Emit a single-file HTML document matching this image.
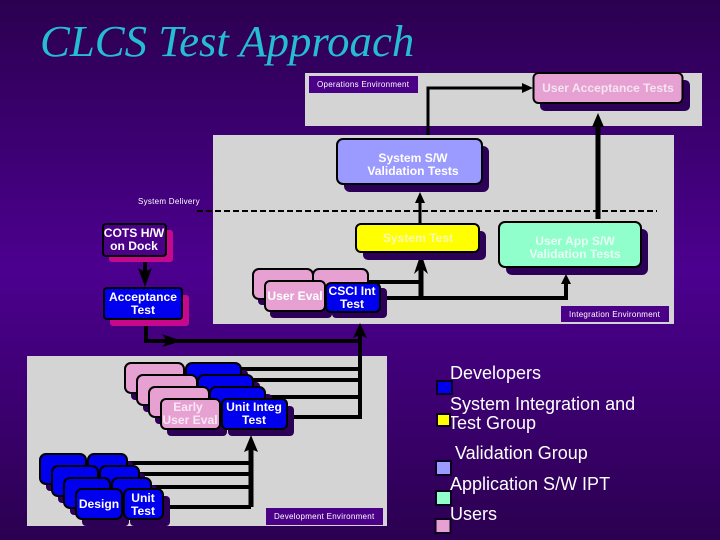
<!DOCTYPE html>
<html>
<head>
<meta charset="utf-8">
<style>
html,body{margin:0;padding:0;background:#3a006c}
svg{display:block}
text{font-family:"Liberation Sans",sans-serif;fill:#fff}
.b{font-weight:bold;font-size:12.1px;text-anchor:middle}
.s{font-size:8px;letter-spacing:.27px}
.l{font-size:18px}
</style>
</head>
<body>
<svg width="720" height="540" viewBox="0 0 720 540" xmlns="http://www.w3.org/2000/svg">
<defs>
<linearGradient id="bg" x1="0" y1="0" x2="0" y2="1">
<stop offset="0" stop-color="#2b0050"/>
<stop offset=".5" stop-color="#4c008f"/>
<stop offset="1" stop-color="#2b0050"/>
</linearGradient>
</defs>
<rect width="720" height="540" fill="url(#bg)"/>
<text x="40" y="56" style="font-family:'Liberation Serif',serif;font-style:italic;font-size:44.8px;fill:#26bcd2">CLCS Test Approach</text>

<rect x="305" y="73" width="397" height="53" fill="#d4d4d4"/>
<rect x="213" y="135" width="461" height="189" fill="#d4d4d4"/>
<rect x="27" y="356" width="360" height="170" fill="#d4d4d4"/>

<rect x="309" y="76" width="109" height="17" fill="#4b0088"/>
<text class="s" x="317" y="87">Operations Environment</text>
<rect x="561" y="306" width="108" height="16" fill="#4b0088"/>
<text class="s" x="569" y="317">Integration Environment</text>
<rect x="266" y="508" width="117" height="17" fill="#4b0088"/>
<text class="s" x="274" y="519">Development Environment</text>
<text class="s" x="138" y="204">System Delivery</text>

<line x1="197" y1="211" x2="657" y2="211" stroke="#000" stroke-width="2" stroke-dasharray="6 3"/>

<!-- connectors -->
<g stroke="#000" fill="none">
<path d="M428 135V88H528" stroke-width="3"/>
<path d="M598 219V120" stroke-width="5"/>
<path d="M420 223V198" stroke-width="3"/>
<path d="M360 282H421" stroke-width="4"/>
<path d="M421 298V262" stroke-width="5"/>
<path d="M375 298H566V280" stroke-width="4"/>
<path d="M146 320V341H360" stroke-width="4"/>
<path d="M360 330V417H280" stroke-width="4"/>
<path d="M230 369H360M240 380H360M250 397H360" stroke-width="4"/>
<path d="M251 507V445" stroke-width="5"/>
<path d="M120 463H251M130 474H251M140 487H251M155 507H251" stroke-width="4"/>
<path d="M145 258V274" stroke-width="4"/>
</g>
<g fill="#000">
<path d="M522 83L533 88L522 93Z"/>
<path d="M598 113L592 127H604Z"/>
<path d="M420 192L415 203H425Z"/>
<path d="M421 253L414 274L421 268L428 274Z"/>
<path d="M566 274L561 284H571Z"/>
<path d="M360 323L353 338L360 335L367 338Z"/>
<path d="M251 435L244 452L251 449L258 452Z"/>
<path d="M145 287L138 268L145 272L152 268Z"/>
<path d="M182 341L162 334L167 341L162 347Z"/>
</g>

<!-- shadows -->
<g fill="#2d0058">
<rect x="540" y="80" width="150" height="31" rx="5"/>
<rect x="344" y="146" width="145" height="46" rx="6"/>
<rect x="363" y="231" width="123" height="29" rx="5"/>
<rect x="506" y="229" width="142" height="46" rx="6"/>
<rect x="270" y="288" width="62" height="30" rx="4"/>
<rect x="332" y="288" width="55" height="30" rx="4"/>
<rect x="258" y="275" width="60" height="30" rx="4"/>
<rect x="131" y="370" width="60" height="30" rx="4"/>
<rect x="192" y="370" width="56" height="24" rx="4"/>
<rect x="143" y="382" width="60" height="30" rx="4"/>
<rect x="204" y="382" width="56" height="24" rx="4"/>
<rect x="155" y="394" width="60" height="30" rx="4"/>
<rect x="216" y="394" width="56" height="24" rx="4"/>
<rect x="167" y="406" width="60" height="30" rx="4"/>
<rect x="228" y="406" width="66" height="30" rx="4"/>
<rect x="46" y="461" width="47" height="30" rx="4"/>
<rect x="94" y="461" width="39" height="24" rx="4"/>
<rect x="58" y="473" width="47" height="30" rx="4"/>
<rect x="106" y="473" width="39" height="24" rx="4"/>
<rect x="70" y="485" width="47" height="30" rx="4"/>
<rect x="118" y="485" width="39" height="24" rx="4"/>
<rect x="82" y="496" width="47" height="30" rx="4"/>
<rect x="130" y="496" width="40" height="30" rx="4"/>
</g>
<rect x="109" y="230" width="64" height="32" rx="3" fill="#c8088c"/>
<rect x="110" y="295" width="79" height="31" rx="3" fill="#c8088c"/>

<g stroke="#000" stroke-width="2">
<rect x="533.5" y="73" width="149" height="30" rx="5" fill="#e6a0d2"/>
<rect x="337" y="139" width="145" height="45" rx="6" fill="#9a9aff"/>
<rect x="356" y="224" width="123" height="28" rx="5" fill="#ffff00"/>
<rect x="499" y="222" width="142" height="45" rx="6" fill="#90ffcc"/>
<rect x="103" y="224" width="63" height="32" rx="3" fill="#4b0088"/>
<rect x="104" y="288" width="78" height="31" rx="3" fill="#0000ee"/>

<!-- User eval / CSCI stack -->
<rect x="253" y="269" width="60" height="30" rx="6" fill="#e6a0d2"/>
<rect x="313" y="269" width="55" height="30" rx="6" fill="#e6a0d2"/>
<rect x="265" y="281" width="60" height="30" rx="5" fill="#e6a0d2"/>
<rect x="326" y="283" width="54" height="29" rx="5" fill="#0000ee"/>

<!-- Early eval stack -->
<rect x="125" y="363" width="59" height="30" rx="6" fill="#e6a0d2"/>
<rect x="186" y="363" width="55" height="24" rx="6" fill="#0000ee"/>
<rect x="137" y="375" width="60" height="30" rx="6" fill="#e6a0d2"/>
<rect x="198" y="375" width="55" height="24" rx="6" fill="#0000ee"/>
<rect x="149" y="387" width="60" height="30" rx="6" fill="#e6a0d2"/>
<rect x="210" y="387" width="55" height="24" rx="6" fill="#0000ee"/>
<rect x="161" y="399" width="59" height="30" rx="5" fill="#e6a0d2"/>
<rect x="222" y="399" width="65" height="30" rx="5" fill="#0000ee"/>

<!-- Design stack -->
<rect x="40" y="454" width="46" height="30" rx="6" fill="#0000ee"/>
<rect x="88" y="454" width="39" height="24" rx="6" fill="#0000ee"/>
<rect x="52" y="466" width="46" height="30" rx="6" fill="#0000ee"/>
<rect x="100" y="466" width="39" height="24" rx="6" fill="#0000ee"/>
<rect x="64" y="478" width="46" height="30" rx="6" fill="#0000ee"/>
<rect x="112" y="478" width="39" height="24" rx="6" fill="#0000ee"/>
<rect x="76" y="489" width="46" height="30" rx="6" fill="#0000ee"/>
<rect x="124" y="489" width="39" height="30" rx="6" fill="#0000ee"/>
</g>

<g>
<text class="b" x="608" y="92" style="fill:#f4e4f0">User Acceptance Tests</text>
<text class="b" x="413" y="162">System S/W</text>
<text class="b" x="413" y="175">Validation Tests</text>
<text class="b" x="418" y="242" style="fill:#f8f8b0">System Test</text>
<text class="b" x="575" y="245" style="fill:#e8fff4">User App S/W</text>
<text class="b" x="575" y="258" style="fill:#e8fff4">Validation Tests</text>
<text class="b" x="134" y="237">COTS H/W</text>
<text class="b" x="134" y="250">on Dock</text>
<text class="b" x="143" y="301">Acceptance</text>
<text class="b" x="143" y="314">Test</text>
<text class="b" x="295" y="300">User Eval</text>
<text class="b" x="352" y="295">CSCI Int</text>
<text class="b" x="352" y="308">Test</text>
<text class="b" x="188" y="411" style="fill:#f8e8f4">Early</text>
<text class="b" x="190" y="424" style="fill:#f8e8f4">User Eval</text>
<text class="b" x="254" y="411">Unit Integ</text>
<text class="b" x="254" y="424">Test</text>
<text class="b" x="99" y="508">Design</text>
<text class="b" x="143" y="502">Unit</text>
<text class="b" x="143" y="515">Test</text>
</g>

<!-- legend -->
<text class="l" x="450" y="379">Developers</text>
<text class="l" x="450" y="410">System Integration and</text>
<text class="l" x="448" y="429">Test Group</text>
<text class="l" x="455" y="459">Validation Group</text>
<text class="l" x="450" y="490">Application S/W IPT</text>
<text class="l" x="450" y="520">Users</text>
<g stroke="#0c0020" stroke-width="2">
<rect x="437" y="381" width="15" height="13" fill="#0000ee"/>
<rect x="437" y="414" width="13" height="12" fill="#ffff00"/>
<rect x="436" y="461" width="15" height="14" fill="#9a9aff"/>
<rect x="436" y="491" width="15" height="14" fill="#90ffcc"/>
<rect x="435.500" y="519" width="15" height="14" fill="#e6a0d2"/>
</g>
</svg>
</body>
</html>
